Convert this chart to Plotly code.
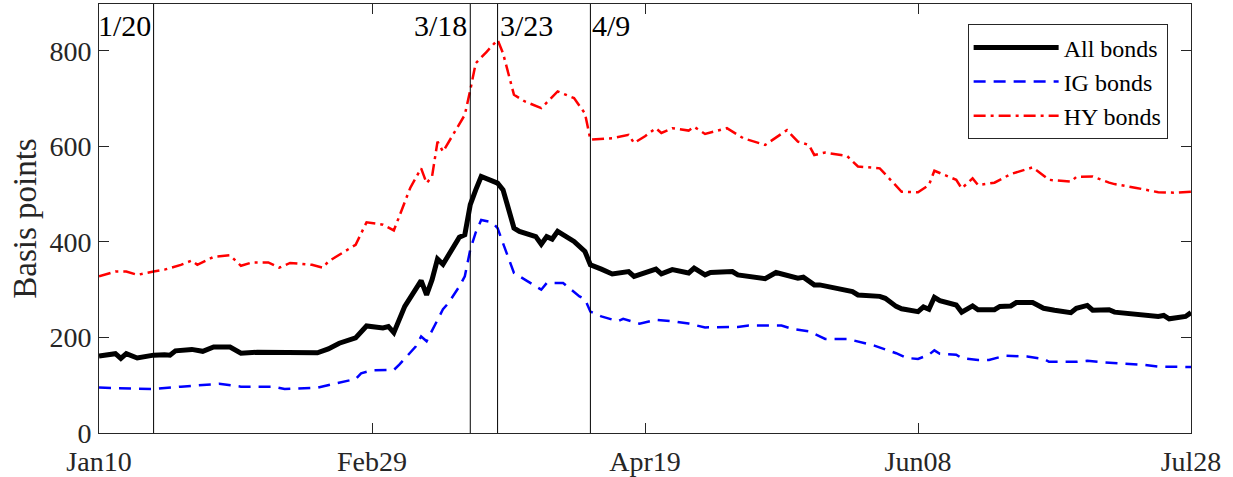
import pandas as pd
import plotly.graph_objects as go

START = "2020-01-10"

# Day offsets from Jan 10, 2020, and spread values (basis points)
all_days = [0, 3, 4, 5, 7, 10, 12, 13, 14, 17, 19, 21, 24, 26, 29, 32, 33, 40, 42, 44,
            47, 49, 52, 53, 54, 56, 59, 60, 61, 62, 63, 66, 67, 68, 69, 70, 73, 74, 76, 77,
            80, 81, 82, 83, 84, 87, 89, 90, 92, 94, 97, 98, 102, 103, 105, 108, 109, 111, 112, 116,
            117, 122, 124, 126, 128, 129, 131, 132, 138, 139, 143, 144, 146, 147, 150, 151, 152, 153, 154, 157,
            158, 160, 161, 164, 165, 167, 168, 171, 173, 175, 178, 179, 181, 182, 185, 186, 189, 192, 194, 195,
            196, 199, 200]
all_vals = [161, 166, 156, 166, 157, 163, 164, 163, 172, 175, 171, 180, 180, 167, 169, 169, 168, 168, 176, 188,
            199, 224, 220, 223, 210, 265, 319, 289, 321, 364, 353, 410, 415, 478, 509, 537, 523, 509, 429, 422,
            411, 395, 411, 406, 422, 401, 380, 352, 343, 333, 338, 328, 343, 333, 342, 335, 345, 331, 336, 338,
            331, 323, 336, 329, 324, 326, 310, 310, 296, 289, 286, 282, 265, 260, 254, 264, 259, 284, 277, 268,
            253, 266, 258, 258, 265, 266, 273, 273, 261, 257, 252, 261, 267, 257, 258, 253, 250, 247, 244, 246,
            239, 244, 252]

ig_days = [0, 5, 10, 15, 19, 22, 26, 32, 34, 40, 43, 47, 48, 50, 54, 55, 58, 59, 60, 62,
           63, 64, 66, 67, 68, 69, 70, 72, 73, 74, 76, 78, 81, 82, 85, 88, 89, 90, 92, 95,
           96, 99, 102, 105, 108, 111, 117, 119, 125, 127, 130, 133, 137, 141, 142, 146, 148, 150, 152, 153,
           154, 157, 158, 161, 163, 166, 170, 173, 174, 179, 181, 184, 188, 191, 194, 200]
ig_vals = [95, 94, 92, 97, 101, 103, 97, 97, 92, 95, 103, 113, 125, 131, 132, 143, 181, 202, 192, 237,
           259, 272, 307, 328, 384, 420, 446, 441, 429, 397, 335, 321, 300, 314, 314, 286, 280, 254, 244, 234,
           239, 229, 237, 234, 229, 221, 222, 225, 225, 218, 213, 197, 197, 186, 183, 167, 157, 155, 164, 173,
           166, 164, 157, 153, 153, 162, 160, 155, 149, 149, 151, 148, 146, 143, 139, 138]

hy_days = [0, 3, 5, 7, 10, 12, 15, 17, 18, 21, 24, 26, 28, 31, 33, 35, 39, 41, 42, 45,
           47, 49, 52, 54, 56, 57, 59, 60, 61, 62, 63, 67, 68, 69, 71, 73, 74, 76, 78, 81,
           84, 87, 89, 90, 94, 97, 98, 100, 102, 103, 105, 108, 109, 111, 115, 118, 122, 126, 128, 130,
           131, 133, 137, 139, 143, 147, 150, 152, 153, 157, 158, 160, 161, 164, 167, 171, 174, 178, 179, 182,
           185, 186, 190, 194, 197, 200]
hy_vals = [328, 338, 338, 331, 338, 342, 352, 361, 352, 369, 372, 350, 357, 357, 346, 356, 352, 346, 359, 380,
           394, 441, 436, 424, 485, 513, 554, 523, 537, 610, 589, 666, 718, 774, 798, 823, 795, 708, 694, 680,
           715, 701, 669, 614, 617, 624, 607, 621, 638, 628, 638, 633, 641, 626, 638, 617, 603, 634, 610, 603,
           582, 587, 580, 558, 554, 505, 504, 519, 549, 530, 512, 533, 519, 524, 542, 556, 530, 526, 536, 537,
           524, 521, 513, 504, 503, 505]

series_names = ["All bonds", "IG bonds", "HY bonds"]

tick_dates = ["2020-01-10", "2020-02-29", "2020-04-19", "2020-06-08", "2020-07-28"]
tick_labels = ["Jan10", "Feb29", "Apr19", "Jun08", "Jul28"]

event_dates = ["2020-01-20", "2020-03-18", "2020-03-23", "2020-04-09"]
event_labels = ["1/20", "3/18", "3/23", "4/9"]
event_sides = ["right", "right", "left", "left"]

y_ticks = [0, 200, 400, 600, 800]


def to_dates(days):
    return pd.Timestamp(START) + pd.to_timedelta(days, unit="D")


fig = go.Figure()
fig.add_trace(go.Scatter(x=to_dates(all_days), y=all_vals, mode="lines", name=series_names[0],
                         line=dict(color="black", width=5)))
fig.add_trace(go.Scatter(x=to_dates(ig_days), y=ig_vals, mode="lines", name=series_names[1],
                         line=dict(color="#0000FF", width=2.5, dash="12px,8px")))
fig.add_trace(go.Scatter(x=to_dates(hy_days), y=hy_vals, mode="lines", name=series_names[2],
                         line=dict(color="#FF0000", width=2.5, dash="12px,5px,3px,5px")))

serif = "Liberation Serif, Times New Roman, serif"
axis_col = "#262626"

for d, lab, side in zip(event_dates, event_labels, event_sides):
    fig.add_shape(type="line", xref="x", yref="paper", x0=d, x1=d, y0=0, y1=1,
                  line=dict(color="black", width=1))
    fig.add_annotation(x=d, y=1, xref="x", yref="paper", text=lab, showarrow=False,
                       xanchor=side, yanchor="top", xshift=(-1 if side == "right" else 0), yshift=-3,
                       font=dict(family=serif, size=30, color="black"))

fig.update_layout(
    width=1233, height=477,
    margin=dict(l=99, r=42, t=4, b=44),
    paper_bgcolor="white", plot_bgcolor="white",
    font=dict(family=serif, size=28, color=axis_col),
    showlegend=True,
    legend=dict(x=0.9786, y=0.9527, xanchor="right", yanchor="top",
                bgcolor="white", bordercolor=axis_col, borderwidth=1,
                font=dict(family=serif, size=24, color="black"),
                itemwidth=85, tracegroupgap=0),
)
fig.update_xaxes(range=["2020-01-10", "2020-07-28"], tickvals=tick_dates, ticktext=tick_labels,
                 ticks="inside", ticklen=10, tickcolor=axis_col, showline=True, linecolor=axis_col,
                 linewidth=1, mirror="ticks", showgrid=False, zeroline=False, ticklabelstandoff=3,
                 automargin=False,
                 tickfont=dict(family=serif, size=28, color=axis_col))
fig.update_yaxes(range=[0, 898], tickvals=y_ticks, ticks="inside", ticklen=10, tickcolor=axis_col,
                 showline=True, linecolor=axis_col, linewidth=1, mirror="ticks", showgrid=False,
                 zeroline=False, ticklabelstandoff=1, automargin=False,
                 tickfont=dict(family=serif, size=28, color=axis_col),
                 title=dict(text="Basis points", font=dict(family=serif, size=33, color=axis_col),
                            standoff=2))

fig.write_html("out.html", config={"displayModeBar": False},
               post_script="document.body.style.margin='0px';")
